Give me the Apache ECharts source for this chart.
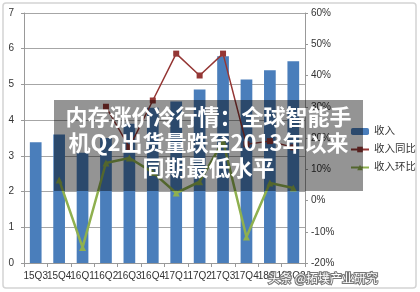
<!DOCTYPE html>
<html>
<head>
<meta charset="utf-8">
<script src="https://cdn.jsdelivr.net/npm/echarts@6/dist/echarts.min.js"></script>
<style>
  html, body { margin: 0; padding: 0; background: #fff; }
  #main { width: 420px; height: 292px; }
</style>
</head>
<body>
<div id="main"></div>
<script>
    // 数据
    var quarters = ['15Q3','15Q4','16Q1','16Q2','16Q3','16Q4','17Q1','17Q2','17Q3','17Q4','18Q1','18Q2'];
    var revenue = [3.38, 3.6, 3.09, 3.5, 3.9, 4.35, 4.52, 4.86, 5.79, 5.14, 5.4, 5.65];
    var revenueYoY = [null, null, null, 30, 17, 32, 47, 40, 47, 18, 19, 17];
    var revenueQoQ = [null, 6.6, -15, 12, 13.6, 9, 2.4, 6, 19, -11.7, 5.6, 4];
    var leftTicks = [0, 7, 1];
    var rightTicks = [-20, 60, 10];

    var myChart = echarts.init(document.getElementById('main'));
    var font = 'Liberation Sans, "Noto Sans CJK SC", sans-serif';

    var option = {
        animation: false,
        backgroundColor: '#fff',
        textStyle: { fontFamily: font },
        grid: { left: 24, right: 115, top: 13, bottom: 29 },
        legend: {
            orient: 'vertical',
            left: 345,
            top: 120,
            itemWidth: 18,
            itemHeight: 7,
            itemGap: 5,
            textStyle: { fontSize: 10.5, color: '#333', lineHeight: 13, fontFamily: font },
            data: ['收入', '收入同比', '收入环比']
        },
        xAxis: {
            type: 'category',
            data: quarters,
            axisLine: { lineStyle: { color: '#999' } },
            axisTick: { show: true, length: 4, lineStyle: { color: '#999' } },
            axisLabel: { fontSize: 10, color: '#333', margin: 8, interval: 0 }
        },
        yAxis: [
            {
                type: 'value',
                min: leftTicks[0], max: leftTicks[1], interval: leftTicks[2],
                axisLine: { show: true, lineStyle: { color: '#999' } },
                axisTick: { show: true, length: 3, lineStyle: { color: '#999' } },
                axisLabel: { fontSize: 10, color: '#333', margin: 10 },
                splitLine: { lineStyle: { color: '#a6a6a6' } }
            },
            {
                type: 'value',
                min: rightTicks[0], max: rightTicks[1], interval: rightTicks[2],
                axisLine: { show: true, lineStyle: { color: '#999' } },
                axisTick: { show: true, length: 3, lineStyle: { color: '#999' } },
                axisLabel: { fontSize: 10, color: '#333', margin: 6, formatter: '{value}%' },
                splitLine: { show: false }
            }
        ],
        series: [
            {
                name: '收入',
                type: 'bar',
                data: revenue,
                barWidth: '50%',
                itemStyle: { color: '#4a7ebb' }
            },
            {
                name: '收入同比',
                type: 'line',
                yAxisIndex: 1,
                data: revenueYoY,
                symbol: 'rect',
                symbolSize: 6,
                lineStyle: { color: '#953735', width: 1.5 },
                itemStyle: { color: '#953735' }
            },
            {
                name: '收入环比',
                type: 'line',
                yAxisIndex: 1,
                data: revenueQoQ,
                symbol: 'triangle',
                symbolSize: 7,
                lineStyle: { color: '#8fb04f', width: 2.5 },
                itemStyle: { color: '#8fb04f' }
            }
        ],
        graphic: [
            {
                type: 'rect',
                shape: { x: 3, y: 3, width: 413, height: 285, r: 3 },
                style: { fill: 'none', stroke: '#d4d4d4', lineWidth: 1.5 },
                z: 100
            },
            {
                type: 'rect',
                shape: { x: 54, y: 100, width: 309, height: 91 },
                style: { fill: 'rgba(0,0,0,0.42)' },
                z: 100
            },
            {
                type: 'text',
                x: 208.5,
                y: 104,
                style: {
                    text: '内存涨价冷行情：全球智能手\n机Q2出货量跌至2013年以来\n同期最低水平',
                    fill: '#fff',
                    font: 'bold 22px "Noto Sans CJK SC", sans-serif',
                    lineHeight: 25.5,
                    align: 'center',
                    verticalAlign: 'top'
                },
                z: 101
            },
            {
                type: 'text',
                x: 268,
                y: 272,
                style: {
                    text: '头条 @拓墣产业研究',
                    fill: '#fff',
                    stroke: '#777',
                    lineWidth: 2,
                    font: '12px "Noto Sans CJK SC", sans-serif'
                },
                z: 101
            }
        ]
    };
    myChart.setOption(option);
</script>
</body>
</html>
